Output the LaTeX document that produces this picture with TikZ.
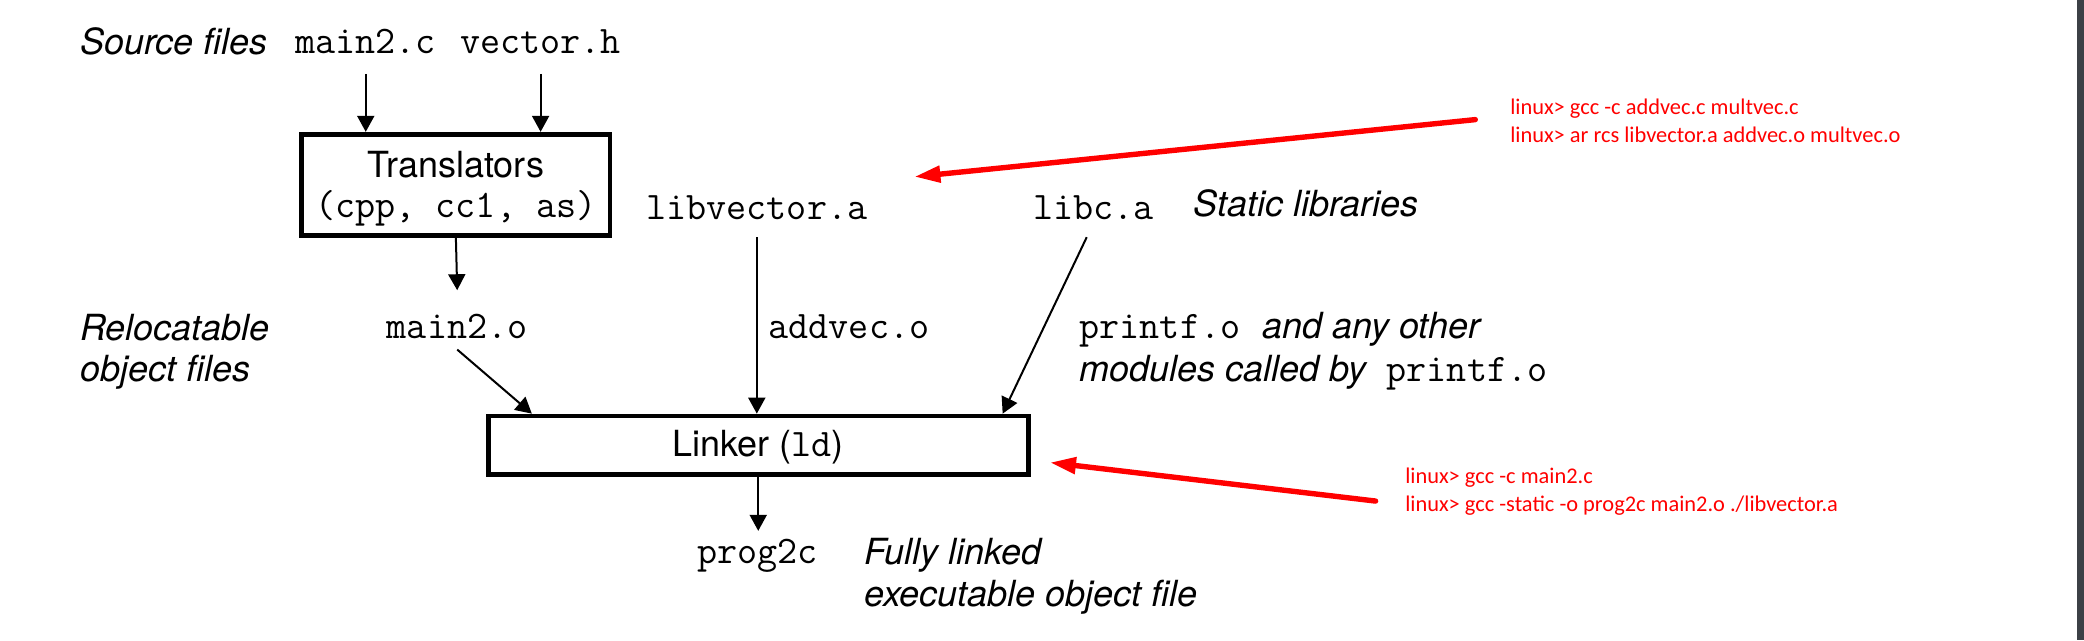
\documentclass[tikz,border=0pt]{standalone}
\usepackage{fontspec}
\setmainfont{TeX Gyre Heros}
\newfontfamily\redfont{Carlito}
\usetikzlibrary{arrows.meta}
\definecolor{barcol}{RGB}{60,64,70}
\begin{document}
\begin{tikzpicture}[x=0.6645pt,y=-0.6645pt,
  lbl/.style={font=\fontsize{18}{20.6}\selectfont\itshape, inner sep=0, anchor=base west},
  code/.style={font=\fontsize{19.5}{22}\selectfont\ttfamily, inner sep=0},
  boxed/.style={draw, line width=2.4pt, inner sep=0, align=center, font=\fontsize{18}{20}\selectfont},
  arr/.style={-{Triangle[length=8pt,width=8.5pt]}, line width=1pt},
  redarr/.style={red, line width=2.7pt, line cap=round, -{Triangle[length=13pt,width=8pt]}},
  redtxt/.style={font=\redfont\fontsize{11.2}{14.2}\selectfont, text=red, inner sep=0, align=left, anchor=west}]
\path[use as bounding box] (0,0) rectangle (1568,481.6);
\fill[barcol] (1563,0) rectangle (1568,481.6);

% source files
\node[lbl] (srcl) at (60,41) {Source files};
\node[code, anchor=base west] (mainc) at (222,40) {main2.c};
\node[code, anchor=base west] (vech) at (346,40) {vector.h};

% translators
\node[boxed, minimum width=154.2pt, minimum height=50.5pt] (trans) at (343,139)
  {\rule{0pt}{17pt}Translators\\{\ttfamily\fontsize{19.5}{20}\selectfont (cpp, cc1, as)}};

% libraries
\node[code, anchor=base west] (libvec) at (486,165) {libvector.a};
\node[code, anchor=base west] (libc) at (777,165) {libc.a};
\node[lbl] (statl) at (898,163) {Static libraries};

% relocatable
\node[code, anchor=base] (maino) at (344,255) {main2.o};
\node[lbl] (reloc1) at (60,256) {Relocatable};
\node[lbl] (reloc2) at (60,287) {object files};
\node[code, anchor=base west] (addo) at (578,255) {addvec.o};
\node[lbl] (pf1) at (812,255) {{\upshape\ttfamily\fontsize{19.5}{22}\selectfont printf.o}\hspace{6pt} and any other};
\node[lbl] (pf2) at (812,287) {modules called by\hspace{5pt} {\upshape\ttfamily\fontsize{19.5}{22}\selectfont printf.o}};

% linker
\node[boxed, minimum width=270pt, minimum height=29.2pt] (linker) at (570.5,335)
  {\rule{0pt}{15pt}Linker ({\ttfamily\fontsize{19.5}{20}\selectfont ld})};

% output
\node[code, anchor=base] (prog) at (570,424) {prog2c};
\node[lbl] (full1) at (650,425) {Fully linked};
\node[lbl] (full2) at (650,456) {executable object file};

% red notes
\node[redtxt] (r1) at (1136,91) {linux> gcc -c addvec.c multvec.c\\linux> ar rcs libvector.a addvec.o multvec.o};
\node[redtxt] (r2) at (1057,370) {linux> gcc -c main2.c\\linux> gcc -static -o prog2c main2.o ./libvector.a};
\coordinate (tip1) at (688,133);
\coordinate (tip2) at (790,348);

% connectors
\draw[arr] ([yshift=-10pt]mainc.south) -- (mainc.south |- trans.north);
\draw[arr] ([yshift=-10pt]vech.south) -- (vech.south |- trans.north);
\draw[arr] (trans.south) -- ([yshift=12pt]maino.north);
\draw[arr] ([yshift=-5pt]maino.south) -- ([xshift=23pt]linker.north west);
\draw[arr] ([yshift=-8.6pt]libvec.south) -- (libvec.south |- linker.north);
\draw[arr] ([shift={(-5,13)}]libc.south) -- ([xshift=-14pt]linker.north east);
\draw[arr] (linker.south) -- ([yshift=4pt]linker.south |- prog.north);
\draw[redarr] ([shift={(-26,-1)}]r1.west) -- (tip1);
\draw[redarr] ([shift={(-22,7)}]r2.west) -- (tip2);
\end{tikzpicture}
\end{document}
